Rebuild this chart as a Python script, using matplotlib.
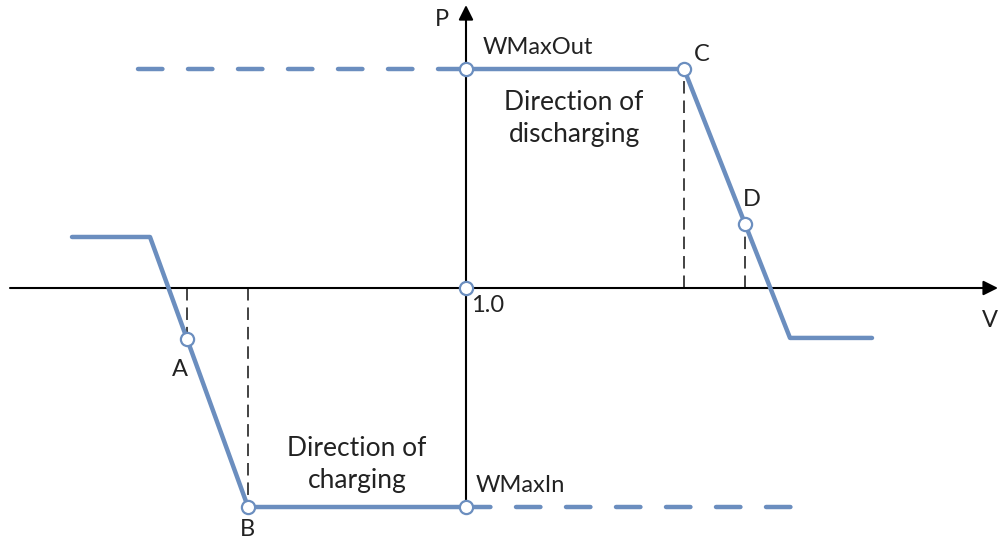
import matplotlib
matplotlib.use("Agg")
import matplotlib.pyplot as plt

plt.rcParams['font.family'] = ['Lato', 'DejaVu Sans']
plt.rcParams['lines.scale_dashes'] = False

BLUE = '#6b8ebf'
INK = '#222222'

# characteristic curve (V in p.u., P relative to WMax)
curve_v = [0.606, 0.684, 0.782, 1.0]
curve_p = [0.233, 0.233, -1.0, -1.0]
curve2_v = [1.0, 1.218, 1.324, 1.406]
curve2_p = [1.0, 1.0, -0.228, -0.228]

# dashed extensions of the limits
out_ext_v = [0.672, 1.0]
out_ext_p = [1.0, 1.0]
in_ext_v = [1.0, 1.329]
in_ext_p = [-1.0, -1.0]

# marked points
pt_names = ['A', 'B', 'C', 'D']
pt_v = [0.721, 0.782, 1.218, 1.279]
pt_p = [-0.233, -1.0, 1.0, 0.29]
axis_pts_v = [1.0, 1.0, 1.0]
axis_pts_p = [1.0, 0.0, -1.0]

fig = plt.figure(figsize=(9.98, 5.42), dpi=100)
ax = fig.add_axes([0, 0, 1, 1])
ax.set_xlim(0.534, 1.532)
ax.set_ylim(-1.1598, 1.3151)
ax.axis('off')

# axes with arrows
ax.annotate('', xy=(1.532, 0), xytext=(0.544, 0),
            arrowprops=dict(arrowstyle='-|>', lw=1.5, color='black',
                            mutation_scale=22, shrinkA=0, shrinkB=0))
ax.annotate('', xy=(1.0, 1.292), xytext=(1.0, -1.0),
            arrowprops=dict(arrowstyle='-|>', lw=1.5, color='black',
                            mutation_scale=22, shrinkA=0, shrinkB=0))

# guide lines from the points to the V axis
for v, p in zip(pt_v, pt_p):
    ax.plot([v, v], [0, p], color=INK, lw=1.2, ls=(0, (9, 5)), zorder=2)

ax.plot(curve_v, curve_p, color=BLUE, lw=3.2, solid_capstyle='round',
        solid_joinstyle='round', zorder=3)
ax.plot(curve2_v, curve2_p, color=BLUE, lw=3.2, solid_capstyle='round',
        solid_joinstyle='round', zorder=3)
ax.plot(out_ext_v, out_ext_p, color=BLUE, lw=3.2, ls=(0, (17.6, 18.4)),
        dash_capstyle='round', zorder=3)
ax.plot(in_ext_v, in_ext_p, color=BLUE, lw=3.2, ls=(0, (17.6, 18.4)),
        dash_capstyle='round', zorder=3)

ax.plot(pt_v + axis_pts_v, pt_p + axis_pts_p, 'o', ms=9.5, mfc='white',
        mec=BLUE, mew=1.6, zorder=4)

fs = 17
ax.text(0.976, 1.224, 'P', fontsize=fs, color=INK, ha='center', va='center')
ax.text(1.524, -0.15, 'V', fontsize=fs, color=INK, ha='center', va='center')
ax.text(1.017, 1.1, 'WMaxOut', fontsize=fs, color=INK, ha='left', va='center')
ax.text(1.010, -0.903, 'WMaxIn', fontsize=fs, color=INK, ha='left', va='center')
ax.text(1.005, -0.08, '1.0', fontsize=fs, color=INK, ha='left', va='center')
ax.text(0.714, -0.374, 'A', fontsize=fs, color=INK, ha='center', va='center')
ax.text(0.781, -1.105, 'B', fontsize=fs, color=INK, ha='center', va='center')
ax.text(1.236, 1.064, 'C', fontsize=fs, color=INK, ha='center', va='center')
ax.text(1.286, 0.402, 'D', fontsize=fs, color=INK, ha='center', va='center')
ax.text(1.108, 0.775, 'Direction of\ndischarging', fontsize=19, color=INK,
        ha='center', va='center', linespacing=1.35)
ax.text(0.891, -0.806, 'Direction of\ncharging', fontsize=19, color=INK,
        ha='center', va='center', linespacing=1.35)

fig.savefig('out.png', dpi=100)
